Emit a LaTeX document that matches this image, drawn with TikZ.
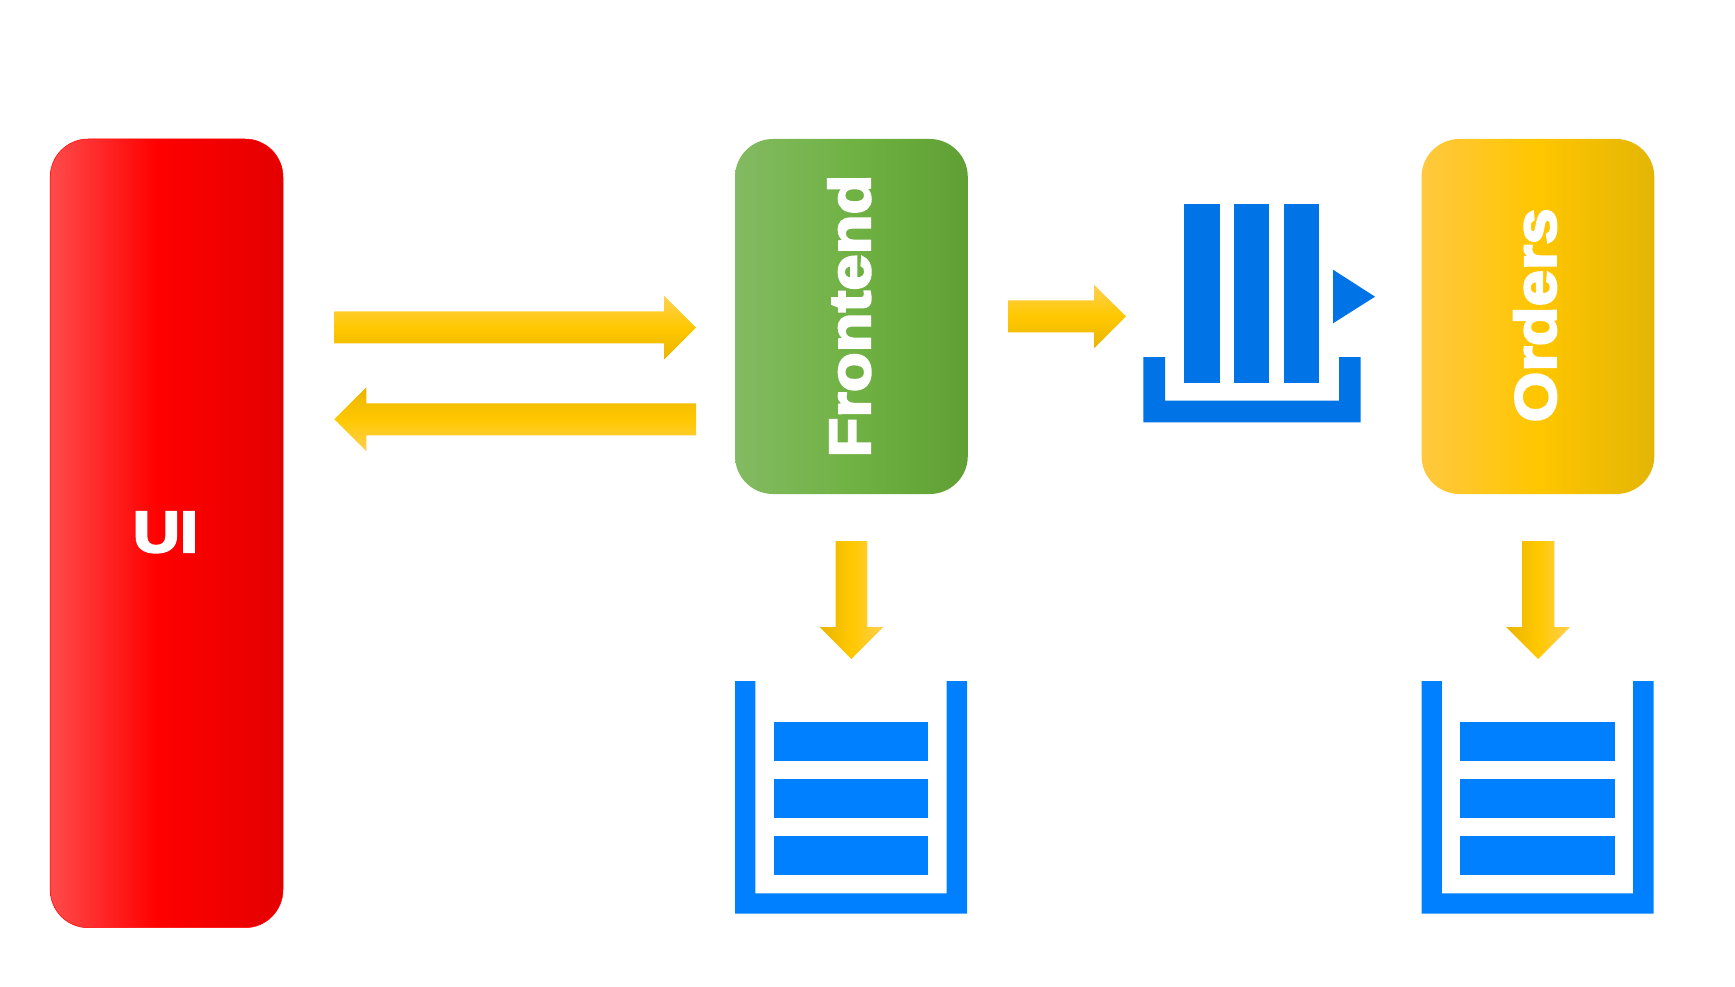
\documentclass[tikz,border=0pt]{standalone}
\usepackage{fontspec}
\newfontfamily\lblfont[BoldFeatures={FakeBold=4,FakeStretch=1.12,LetterSpace=0.3}]{Liberation Sans}
\definecolor{uiL}{HTML}{FF4B4B}\definecolor{uiM}{HTML}{FF0000}\definecolor{uiR}{HTML}{E40000}
\definecolor{feL}{HTML}{83BA62}\definecolor{feM}{HTML}{70B244}\definecolor{feR}{HTML}{5F9F33}
\definecolor{orL}{HTML}{FFC83F}\definecolor{orM}{HTML}{FFC600}\definecolor{orR}{HTML}{E3B505}
\definecolor{arL}{HTML}{FFD050}\definecolor{arM}{HTML}{FFC800}\definecolor{arD}{HTML}{EAB400}
\definecolor{binblue}{HTML}{007FFF}\definecolor{qblue}{HTML}{0073E6}
\pgfdeclarehorizontalshading{redgrad}{100bp}{color(0bp)=(uiL);color(25bp)=(uiL);color(48bp)=(uiM);color(75bp)=(uiR);color(100bp)=(uiR)}
\pgfdeclarehorizontalshading{greengrad}{100bp}{color(0bp)=(feL);color(25bp)=(feL);color(50bp)=(feM);color(75bp)=(feR);color(100bp)=(feR)}
\pgfdeclarehorizontalshading{goldgrad}{100bp}{color(0bp)=(orL);color(25bp)=(orL);color(50bp)=(orM);color(75bp)=(orR);color(100bp)=(orR)}
\tikzset{
  svc/.style={rectangle,rounded corners=38pt,minimum width=232.8pt,inner sep=0pt,outer sep=0pt,anchor=north west,shading angle=0},
  svclabel/.style={text=white,font=\lblfont\bfseries\fontsize{58}{58}\selectfont,inner sep=0pt,text depth=0pt},
  arrowh/.style={top color=arL,bottom color=arD,middle color=arM},
  arrowr/.style={top color=arD,bottom color=arL,middle color=arM},
  arrowv/.style={left color=arD,right color=arL,middle color=arM},
  binpart/.style={fill=binblue},
  qpart/.style={fill=qblue}
}
\begin{document}
\begin{tikzpicture}[x=1pt,y=-1pt]
\useasboundingbox (0,0) rectangle (1735,987);
% services
\node[svc,shading=redgrad,minimum height=788.7pt,draw=red,line width=0.5pt] (ui) at (50.2,139) {};
\node[svc,shading=greengrad,minimum height=355pt] (fe) at (735,139) {};
\node[svc,shading=goldgrad,minimum height=355pt] (or) at (1421.5,139) {};
\node[svclabel] (uil) at (165.5,532) {UI};
\node[svclabel,rotate=90] (fel) at (849,316) {Frontend};
\node[svclabel,rotate=90] (orl) at (1534.7,315.3) {Orders};
% arrows
\shade[arrowh] (334.3,311.3)--(664,311.3)--(664,295.7)--(696,327.5)--(664,359.7)--(664,343.3)--(334.3,343.3)--cycle;
\shade[arrowr] (696,403.3)--(366.4,403.3)--(366.4,387.3)--(334.3,419.3)--(366.4,451.3)--(366.4,435.3)--(696,435.3)--cycle;
\shade[arrowh] (1008,300.3)--(1094,300.3)--(1094,284.7)--(1126,316.4)--(1094,348.3)--(1094,332.3)--(1008,332.3)--cycle;
\shade[arrowv] (835.7,541)--(867.3,541)--(867.3,627)--(883.3,627)--(851.4,659)--(819.7,627)--(835.7,627)--cycle;
\shade[arrowv] (1522,541)--(1554.3,541)--(1554.3,627)--(1570,627)--(1538.2,659)--(1506,627)--(1522,627)--cycle;
% queue
\fill[qpart] (1184.3,204) rectangle (1219.7,383.3);
\fill[qpart] (1234,204) rectangle (1269,383.3);
\fill[qpart] (1283.7,204) rectangle (1319,383.3);
\fill[qpart] (1333,269.7) -- (1375,296.7) -- (1333,323.3) -- cycle;
\fill[qpart] (1143.3,357) -- (1165,357) -- (1165,400.7) -- (1339,400.7) -- (1339,357) -- (1360.7,357) -- (1360.7,422.3) -- (1143.3,422.3) -- cycle;
% bins
\foreach \dx in {0,686.5}{
  \begin{scope}[xshift=\dx pt]
    \fill[binpart] (735,681) -- (755.3,681) -- (755.3,893.3) -- (946.7,893.3) -- (946.7,681) -- (967,681) -- (967,913.7) -- (735,913.7) -- cycle;
    \fill[binpart] (773.7,722.3) rectangle (928.3,761);
    \fill[binpart] (773.7,779.3) rectangle (928.3,818);
    \fill[binpart] (773.7,836) rectangle (928.3,875);
  \end{scope}
}
\end{tikzpicture}
\end{document}
